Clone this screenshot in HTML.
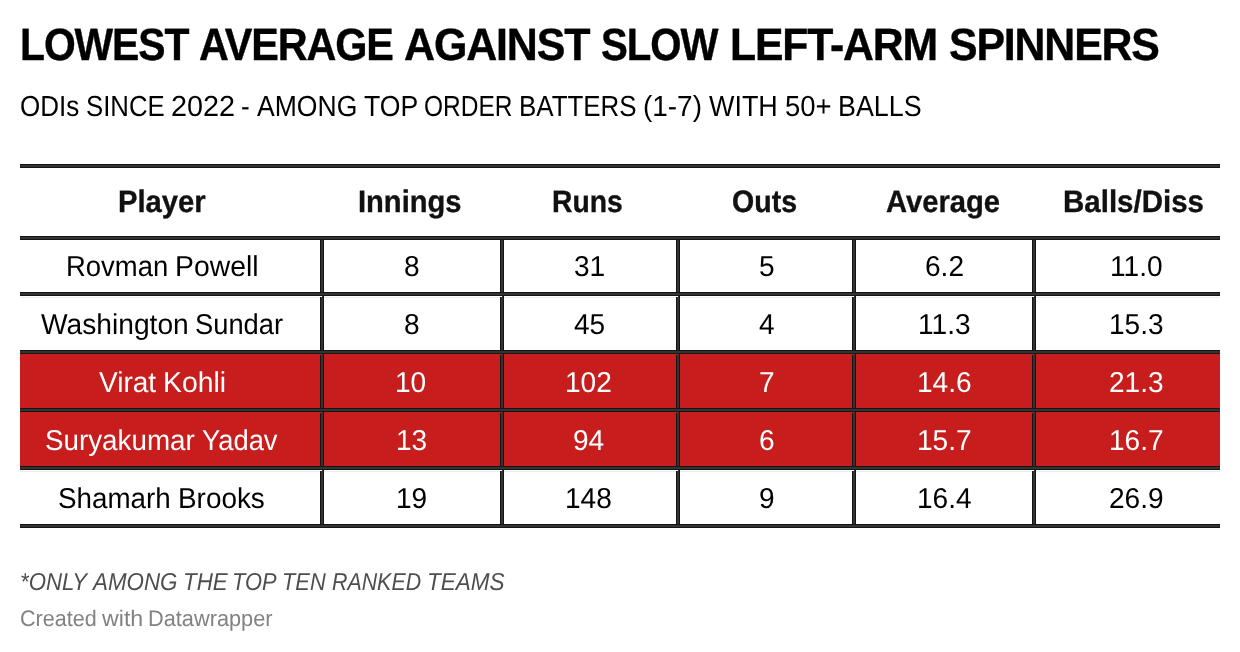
<!DOCTYPE html>
<html lang="en">
<head>
<meta charset="utf-8">
<title>Lowest average against slow left-arm spinners</title>
<style>
html,body{margin:0;padding:0;background:#fff;}
body{width:1240px;height:652px;position:relative;overflow:hidden;font-family:"Liberation Sans", sans-serif;}
h1,p,div.g{margin:0;padding:0;font-weight:400;}
.t{position:absolute;white-space:nowrap;line-height:1;transform-origin:0 0;text-rendering:geometricPrecision;}
.hl{position:absolute;left:20px;width:1200px;height:4px;background:linear-gradient(to bottom,#151515 0,#151515 1px,#333 1px,#333 3px,#151515 3px,#151515 4px);}
.vl{position:absolute;width:4px;top:238px;height:288px;background:linear-gradient(to right,#151515 0,#151515 1px,#333 1px,#333 3px,#151515 3px,#151515 4px);}
.gap{position:absolute;width:2px;height:1px;background:#fff;}
.faint{position:absolute;left:20px;width:1200px;height:1px;background:#ececec;}
.red{position:absolute;left:20px;width:1200px;height:54px;background:#c71e1d;}
.g-title .t{font-size:45.3px;font-weight:700;color:#000;letter-spacing:-1.2px;-webkit-text-stroke:0.4px;}
.g-sub .t{font-size:29px;font-weight:400;color:#000;}
.g-hdr .t{font-size:31px;font-weight:700;color:#111;-webkit-text-stroke:0.35px;}
.g-row0 .t{font-size:28.8px;font-weight:400;color:#000;}
.g-row1 .t{font-size:28.8px;font-weight:400;color:#000;}
.g-row2 .t{font-size:28.8px;font-weight:400;color:#fff;}
.g-row3 .t{font-size:28.8px;font-weight:400;color:#fff;}
.g-row4 .t{font-size:28.8px;font-weight:400;color:#000;}
.g-note .t{font-size:24.5px;font-weight:400;color:#4e4e4e;font-style:italic;}
.g-credit .t{font-size:22.5px;font-weight:400;color:#828282;}
</style>
</head>
<body>
<h1 class="g g-title">
<span class="t" id="t0" style="left:20.00px;top:22.01px;transform:scaleX(0.9026)">LOWEST</span> 
<span class="t" id="t1" style="left:199.00px;top:22.01px;transform:scaleX(0.9132)">AVERAGE</span> 
<span class="t" id="t2" style="left:404.00px;top:22.01px;transform:scaleX(0.9481)">AGAINST</span> 
<span class="t" id="t3" style="left:601.00px;top:22.01px;transform:scaleX(0.8875)">SLOW</span> 
<span class="t" id="t4" style="left:730.00px;top:22.01px;transform:scaleX(0.9436)">LEFT-ARM</span> 
<span class="t" id="t5" style="left:949.00px;top:22.01px;transform:scaleX(0.9450)">SPINNERS</span>
</h1>
<p class="g g-sub">
<span class="t" id="s0" style="left:20.00px;top:93.01px;transform:scaleX(0.8964)">ODIs</span> 
<span class="t" id="s1" style="left:86.00px;top:93.01px;transform:scaleX(0.8883)">SINCE</span> 
<span class="t" id="s2" style="left:171.00px;top:93.01px;transform:scaleX(0.9941)">2022</span> 
<span class="t" id="s3" style="left:241.00px;top:93.01px;transform:scaleX(0.9000)">-</span> 
<span class="t" id="s4" style="left:257.00px;top:93.01px;transform:scaleX(0.9154)">AMONG</span> 
<span class="t" id="s5" style="left:364.00px;top:93.01px;transform:scaleX(0.9173)">TOP</span> 
<span class="t" id="s6" style="left:424.00px;top:93.01px;transform:scaleX(0.8446)">ORDER</span> 
<span class="t" id="s7" style="left:519.00px;top:93.01px;transform:scaleX(0.8934)">BATTERS</span> 
<span class="t" id="s8" style="left:643.00px;top:93.01px;transform:scaleX(0.9627)">(1-7)</span> 
<span class="t" id="s9" style="left:709.00px;top:93.01px;transform:scaleX(0.9287)">WITH</span> 
<span class="t" id="s10" style="left:785.00px;top:93.01px;transform:scaleX(0.9482)">50+</span> 
<span class="t" id="s11" style="left:838.00px;top:93.01px;transform:scaleX(0.9253)">BALLS</span>
</p>
<div class="table">
<div class="red" style="top:354px"></div>
<div class="red" style="top:412px"></div>
<div class="faint" style="top:297px"></div>
<div class="faint" style="top:471px"></div>
<div class="vl" style="left:320px"></div>
<div class="vl" style="left:500px"></div>
<div class="vl" style="left:676px"></div>
<div class="vl" style="left:852px"></div>
<div class="vl" style="left:1032px"></div>
<div class="gap" style="left:320px;top:296px"></div>
<div class="gap" style="left:500px;top:296px"></div>
<div class="gap" style="left:676px;top:296px"></div>
<div class="gap" style="left:852px;top:296px"></div>
<div class="gap" style="left:1032px;top:296px"></div>
<div class="gap" style="left:320px;top:470px"></div>
<div class="gap" style="left:500px;top:470px"></div>
<div class="gap" style="left:676px;top:470px"></div>
<div class="gap" style="left:852px;top:470px"></div>
<div class="gap" style="left:1032px;top:470px"></div>
<div class="gap" style="left:320px;top:354px;background:#c71e1d"></div>
<div class="gap" style="left:500px;top:354px;background:#c71e1d"></div>
<div class="gap" style="left:676px;top:354px;background:#c71e1d"></div>
<div class="gap" style="left:852px;top:354px;background:#c71e1d"></div>
<div class="gap" style="left:1032px;top:354px;background:#c71e1d"></div>
<div class="gap" style="left:320px;top:412px;background:#c71e1d"></div>
<div class="gap" style="left:500px;top:412px;background:#c71e1d"></div>
<div class="gap" style="left:676px;top:412px;background:#c71e1d"></div>
<div class="gap" style="left:852px;top:412px;background:#c71e1d"></div>
<div class="gap" style="left:1032px;top:412px;background:#c71e1d"></div>
<div class="hl" style="top:164px"></div>
<div class="hl" style="top:236px"></div>
<div class="hl" style="top:292px"></div>
<div class="hl" style="top:350px"></div>
<div class="hl" style="top:408px"></div>
<div class="hl" style="top:466px"></div>
<div class="hl" style="top:524px"></div>
<div class="g g-hdr">
<span class="t" id="h0" style="left:118.00px;top:186.01px;transform:scaleX(0.9420)">Player</span> 
<span class="t" id="h1" style="left:358.00px;top:186.01px;transform:scaleX(0.9390)">Innings</span> 
<span class="t" id="h2" style="left:552.00px;top:186.01px;transform:scaleX(0.9127)">Runs</span> 
<span class="t" id="h3" style="left:732.00px;top:186.01px;transform:scaleX(0.9209)">Outs</span> 
<span class="t" id="h4" style="left:886.00px;top:186.01px;transform:scaleX(0.9414)">Average</span> 
<span class="t" id="h5" style="left:1063.00px;top:186.01px;transform:scaleX(0.9512)">Balls/Diss</span>
</div>
<div class="g g-row0">
<span class="t" id="r0n0" style="left:66.00px;top:253.25px;transform:scaleX(0.9531)">Rovman</span> 
<span class="t" id="r0n1" style="left:175.00px;top:253.25px;transform:scaleX(0.9848)">Powell</span> 
<span class="t" id="r0c0" style="left:404.00px;top:253.25px;transform:scaleX(0.9750)">8</span> 
<span class="t" id="r0c1" style="left:574.00px;top:253.25px;transform:scaleX(0.9750)">31</span> 
<span class="t" id="r0c2" style="left:759.00px;top:253.25px;transform:scaleX(0.9750)">5</span> 
<span class="t" id="r0c3" style="left:925.00px;top:253.25px;transform:scaleX(0.9750)">6.2</span> 
<span class="t" id="r0c4" style="left:1110.00px;top:253.25px;transform:scaleX(0.9750)">11.0</span>
</div>
<div class="g g-row1">
<span class="t" id="r1n0" style="left:41.00px;top:311.25px;transform:scaleX(0.9783)">Washington</span> 
<span class="t" id="r1n1" style="left:195.00px;top:311.25px;transform:scaleX(0.9483)">Sundar</span> 
<span class="t" id="r1c0" style="left:404.00px;top:311.25px;transform:scaleX(0.9750)">8</span> 
<span class="t" id="r1c1" style="left:574.00px;top:311.25px;transform:scaleX(0.9750)">45</span> 
<span class="t" id="r1c2" style="left:759.00px;top:311.25px;transform:scaleX(0.9750)">4</span> 
<span class="t" id="r1c3" style="left:918.00px;top:311.25px;transform:scaleX(0.9750)">11.3</span> 
<span class="t" id="r1c4" style="left:1109.00px;top:311.25px;transform:scaleX(0.9750)">15.3</span>
</div>
<div class="g g-row2">
<span class="t" id="r2n0" style="left:99.00px;top:369.25px;transform:scaleX(0.9737)">Virat</span> 
<span class="t" id="r2n1" style="left:163.00px;top:369.25px;transform:scaleX(0.9842)">Kohli</span> 
<span class="t" id="r2c0" style="left:395.00px;top:369.25px;transform:scaleX(0.9750)">10</span> 
<span class="t" id="r2c1" style="left:565.00px;top:369.25px;transform:scaleX(0.9750)">102</span> 
<span class="t" id="r2c2" style="left:759.00px;top:369.25px;transform:scaleX(0.9750)">7</span> 
<span class="t" id="r2c3" style="left:917.00px;top:369.25px;transform:scaleX(0.9750)">14.6</span> 
<span class="t" id="r2c4" style="left:1109.00px;top:369.25px;transform:scaleX(0.9750)">21.3</span>
</div>
<div class="g g-row3">
<span class="t" id="r3n0" style="left:45.00px;top:427.25px;transform:scaleX(0.9644)">Suryakumar</span> 
<span class="t" id="r3n1" style="left:202.00px;top:427.25px;transform:scaleX(0.9497)">Yadav</span> 
<span class="t" id="r3c0" style="left:396.00px;top:427.25px;transform:scaleX(0.9750)">13</span> 
<span class="t" id="r3c1" style="left:573.00px;top:427.25px;transform:scaleX(0.9750)">94</span> 
<span class="t" id="r3c2" style="left:759.00px;top:427.25px;transform:scaleX(0.9750)">6</span> 
<span class="t" id="r3c3" style="left:917.00px;top:427.25px;transform:scaleX(0.9750)">15.7</span> 
<span class="t" id="r3c4" style="left:1109.00px;top:427.25px;transform:scaleX(0.9750)">16.7</span>
</div>
<div class="g g-row4">
<span class="t" id="r4n0" style="left:58.00px;top:485.25px;transform:scaleX(0.9638)">Shamarh</span> 
<span class="t" id="r4n1" style="left:178.00px;top:485.25px;transform:scaleX(0.9683)">Brooks</span> 
<span class="t" id="r4c0" style="left:396.00px;top:485.25px;transform:scaleX(0.9750)">19</span> 
<span class="t" id="r4c1" style="left:565.00px;top:485.25px;transform:scaleX(0.9750)">148</span> 
<span class="t" id="r4c2" style="left:759.00px;top:485.25px;transform:scaleX(0.9750)">9</span> 
<span class="t" id="r4c3" style="left:917.00px;top:485.25px;transform:scaleX(0.9750)">16.4</span> 
<span class="t" id="r4c4" style="left:1109.00px;top:485.25px;transform:scaleX(0.9750)">26.9</span>
</div>
</div>
<p class="g g-note">
<span class="t" id="n0" style="left:20.00px;top:570.76px;transform:scaleX(0.9080)">*ONLY</span> 
<span class="t" id="n1" style="left:93.00px;top:570.76px;transform:scaleX(0.9127)">AMONG</span> 
<span class="t" id="n2" style="left:183.00px;top:570.76px;transform:scaleX(0.9127)">THE</span> 
<span class="t" id="n3" style="left:232.00px;top:570.76px;transform:scaleX(0.8921)">TOP</span> 
<span class="t" id="n4" style="left:282.00px;top:570.76px;transform:scaleX(0.8918)">TEN</span> 
<span class="t" id="n5" style="left:332.00px;top:570.76px;transform:scaleX(0.8723)">RANKED</span> 
<span class="t" id="n6" style="left:427.00px;top:570.76px;transform:scaleX(0.9196)">TEAMS</span>
</p>
<p class="g g-credit">
<span class="t" id="c0" style="left:20.00px;top:607.75px;transform:scaleX(0.9574)">Created</span> 
<span class="t" id="c1" style="left:102.00px;top:607.75px;transform:scaleX(1.0316)">with</span> 
<span class="t" id="c2" style="left:148.00px;top:607.75px;transform:scaleX(0.9668)">Datawrapper</span>
</p>
</body>
</html>
